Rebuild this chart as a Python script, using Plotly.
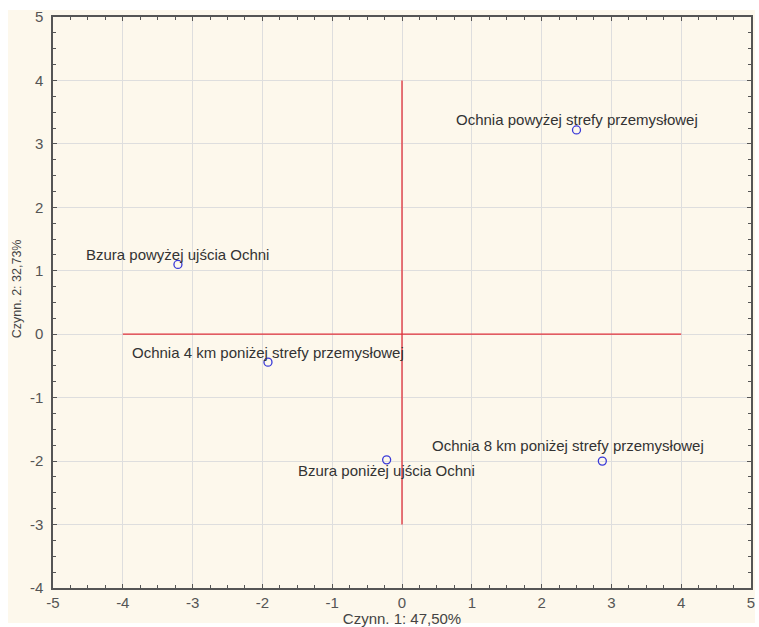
import plotly.graph_objects as go

labels = ["Ochnia powyżej strefy przemysłowej",
          "Bzura powyżej ujścia Ochni",
          "Ochnia 4 km poniżej strefy przemysłowej",
          "Bzura poniżej ujścia Ochni",
          "Ochnia 8 km poniżej strefy przemysłowej"]
factor1 = [2.50, -3.21, -1.92, -0.22, 2.87]
factor2 = [3.22, 1.10, -0.44, -1.98, -2.00]
# label offsets in pixels (style only)
label_dx = [0, 0, 0, 0, -34]
label_dy = [10, 10, 10, -11, 16]

hline_x = [-4, 4]
hline_y = [0, 0]
vline_x = [0, 0]
vline_y = [-3, 4]

x_ticks = [-5, -4, -3, -2, -1, 0, 1, 2, 3, 4, 5]
x_ticktext = ["-5", "-4", "-3", "-2", "-1", "0", "1", "2", "3", "4", "5"]
y_ticks = [-4, -3, -2, -1, 0, 1, 2, 3, 4, 5]
y_ticktext = ["-4", "-3", "-2", "-1", "0", "1", "2", "3", "4", "5"]

x_title = "Czynn. 1: 47,50%"
y_title = "Czynn. 2: 32,73%"

font_family = "Liberation Sans, Arial, sans-serif"

fig = go.Figure()
fig.add_trace(go.Scatter(x=hline_x, y=hline_y, mode="lines",
                         line=dict(color="#e0303a", width=1.3), hoverinfo="skip"))
fig.add_trace(go.Scatter(x=vline_x, y=vline_y, mode="lines",
                         line=dict(color="#e0303a", width=1.3), hoverinfo="skip"))
fig.add_trace(go.Scatter(x=factor1, y=factor2, mode="markers",
                         marker=dict(symbol="circle-open", size=8,
                                     color="#3a3ad8", line=dict(width=1.3))))

for lx, ly, lt, dx, dy in zip(factor1, factor2, labels, label_dx, label_dy):
    fig.add_annotation(x=lx, y=ly, text=lt, showarrow=False,
                       xanchor="center", yanchor="middle",
                       xshift=dx, yshift=dy,
                       font=dict(family=font_family, size=15, color="#333333"))

axis_common = dict(
    showgrid=True, gridcolor="#dedede", gridwidth=1,
    zeroline=False, automargin=False,
    showline=True, linecolor="#555555", linewidth=1.5, mirror="ticks",
    ticks="inside", ticklen=4, tickcolor="#555555", tickwidth=1,
    minor=dict(ticks="inside", ticklen=3, tickcolor="#555555", dtick=0.25, showgrid=False),
    tickfont=dict(family=font_family, size=15, color="#555555"),
)

fig.update_xaxes(range=[-5, 5], tickvals=x_ticks, ticktext=x_ticktext,
                 title=dict(text=x_title, standoff=3,
                            font=dict(family=font_family, size=15, color="#444444")),
                 **axis_common)
fig.update_yaxes(range=[-4, 5], tickvals=y_ticks, ticktext=y_ticktext,
                 ticklabelstandoff=5,
                 **axis_common)

fig.add_annotation(xref="paper", yref="paper", x=-0.0516, y=0.525,
                   text=y_title, showarrow=False, textangle=-90,
                   xanchor="center", yanchor="middle",
                   font=dict(family=font_family, size=12.5, color="#444444"))

fig.add_shape(type="rect", xref="paper", yref="paper",
              x0=-0.0645, x1=1.0057, y0=-0.0613, y1=1.0123,
              fillcolor="#fdf8ec", line=dict(width=0), layer="below")

fig.update_layout(
    width=759, height=627,
    margin=dict(l=53, r=8, t=17, b=39, autoexpand=False),
    paper_bgcolor="white", plot_bgcolor="white",
    showlegend=False,
)

fig.write_html("out.html")
